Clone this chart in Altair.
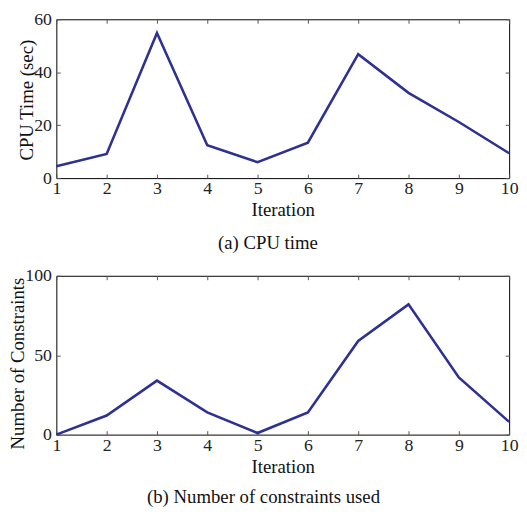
import altair as alt
import pandas as pd

iterations = [1, 2, 3, 4, 5, 6, 7, 8, 9, 10]
cpu_time = [4.5, 9.1, 54.8, 12.4, 6.0, 13.4, 46.8, 32.2, 21.2, 9.4]
num_constraints = [0, 12, 34, 14, 1, 14, 59, 82, 36, 8]
cpu_ticks = [0, 20, 40, 60]
con_ticks = [0, 50, 100]

FONT = "Liberation Serif, DejaVu Serif, serif"
LINE = "#2E3192"

df = pd.DataFrame({"Iteration": iterations, "cpu": cpu_time, "con": num_constraints})


def panel(field, ytitle, yticks, ymax, caption, w, h, cap_offset, title_shift):
    xs = alt.Scale(domain=[1, 10], nice=False, zero=False)
    ys = alt.Scale(domain=[0, ymax], nice=False)
    common = dict(offset=-4, tickSize=4, tickColor="#555555", tickWidth=1,
                  domain=False, grid=False, labelFont=FONT, labelFontSize=18,
                  labelColor="#222222", titleFont=FONT, titleFontSize=19,
                  titleColor="#111111", titleFontWeight="normal", labelFlush=False)
    main = alt.Chart(df).mark_line(color=LINE, strokeWidth=2.6, strokeJoin="miter").encode(
        x=alt.X("Iteration:Q", scale=xs,
                axis=alt.Axis(values=iterations, title="Iteration", labelPadding=2,
                              titlePadding=3, format="d", **common)),
        y=alt.Y(f"{field}:Q", scale=ys,
                axis=alt.Axis(values=yticks, title=ytitle, labelPadding=5,
                              titlePadding=-3, format="d", titleY=h / 2 + title_shift,
                              **common)),
    )
    mirror = alt.Chart(df).mark_line(opacity=0).encode(
        x=alt.X("Iteration:Q", scale=xs,
                axis=alt.Axis(orient="top", values=iterations, labels=False, title=None, **common)),
        y=alt.Y(f"{field}:Q", scale=ys,
                axis=alt.Axis(orient="right", values=yticks, labels=False, title=None, **common)),
    )
    return alt.layer(main, mirror).resolve_axis(x="independent", y="independent").properties(
        width=w, height=h,
        title=alt.TitleParams(caption, orient="bottom", anchor="middle", frame="bounds",
                              font=FONT, fontSize=19, fontWeight="normal", color="#111111",
                              offset=cap_offset),
    )


top = panel("cpu", "CPU Time (sec)", cpu_ticks, 60, "(a)  CPU time", 459, 161, 15, 1)
bottom = panel("con", "Number of Constraints", con_ticks, 100,
               "(b)  Number of constraints used", 459, 161, 12, 8)

chart = alt.vconcat(top, bottom, spacing=12).properties(
    padding={"left": 0, "top": -2, "right": 0, "bottom": 0}
).configure_view(stroke="black", strokeWidth=1)

chart.save("out.html", embed_options={"renderer": "svg", "actions": False})
